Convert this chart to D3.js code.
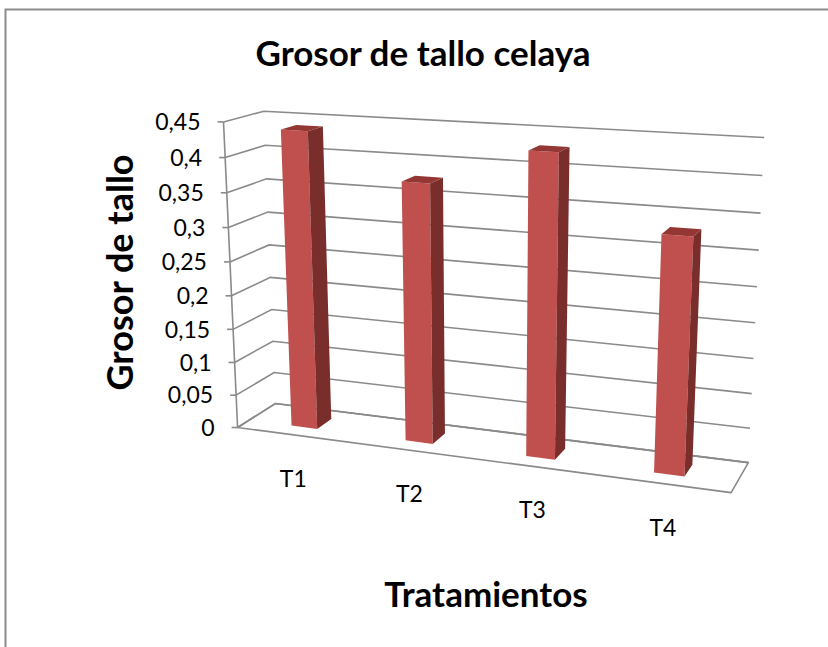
<!DOCTYPE html>
<html>
<head>
<meta charset="utf-8">
<script src="https://cdn.jsdelivr.net/npm/d3@7"></script>
<style>
  html, body { margin: 0; padding: 0; background: #ffffff; overflow: hidden; }
  svg { display: block; }
  text { font-family: Lato, "Open Sans", sans-serif; fill: #000; }
</style>
</head>
<body>
<svg id="chart" width="828" height="647"></svg>
<script>
// ---- data ----
const categories = ["T1", "T2", "T3", "T4"];
const grosor = [0.438, 0.376, 0.429, 0.330];
const yTickValues = [0, 0.05, 0.1, 0.15, 0.2, 0.25, 0.3, 0.35, 0.4, 0.45];
const yTickLabels = ["0", "0,05", "0,1", "0,15", "0,2", "0,25", "0,3", "0,35", "0,4", "0,45"];
const chartTitle = "Grosor de tallo celaya";
const yAxisTitle = "Grosor de tallo";
const xAxisTitle = "Tratamientos";

// ---- 3D frame layout (screen positions of the box edges) ----
// unit box: X = category axis, Y = value axis, Z = depth (0 front, 1 back)
const leftFrontV = [426.7, 395, 363.3, 329.3, 296, 262.3, 227.3, 192.7, 157.3, 122.7];
const backLeftV  = [404, 372.7, 340.7, 309.3, 277.3, 245, 212.7, 179, 144.3, 111];
const backRightU = [748.3, 750, 751.7, 753.3, 755.3, 757, 758.7, 760.3, 762.3, 764];
const backRightV = [461.7, 429, 394, 359, 323.3, 286.7, 250, 213.3, 175.7, 136.7];
const frontRightBottom = [731.7, 492];

const anchors = [];
leftFrontV.forEach((v, k) => anchors.push([0, k / 9, 0, 237.7 - 14.4 * (426.7 - v) / 304, v]));
backLeftV.forEach((v, k) => anchors.push([0, k / 9, 1, 275 - 10.7 * (404 - v) / 293, v]));
backRightV.forEach((v, k) => anchors.push([1, k / 9, 1, backRightU[k], v]));
anchors.push([1, 0, 0, frontRightBottom[0], frontRightBottom[1]]);

// least-squares perspective camera (3x4, last entry fixed to 1)
function fitCamera(pts) {
  const n = 11;
  const M = Array.from({ length: n }, () => new Array(n + 1).fill(0));
  const addRow = (row, rhs) => {
    for (let i = 0; i < n; i++) {
      for (let j = 0; j < n; j++) M[i][j] += row[i] * row[j];
      M[i][n] += row[i] * rhs;
    }
  };
  pts.forEach(([X, Y, Z, u, v]) => {
    addRow([X, Y, Z, 1, 0, 0, 0, 0, -u * X, -u * Y, -u * Z], u);
    addRow([0, 0, 0, 0, X, Y, Z, 1, -v * X, -v * Y, -v * Z], v);
  });
  for (let c = 0; c < n; c++) {
    let piv = c;
    for (let r = c + 1; r < n; r++) if (Math.abs(M[r][c]) > Math.abs(M[piv][c])) piv = r;
    [M[c], M[piv]] = [M[piv], M[c]];
    for (let r = 0; r < n; r++) {
      if (r === c) continue;
      const f = M[r][c] / M[c][c];
      for (let k = c; k <= n; k++) M[r][k] -= f * M[c][k];
    }
  }
  return M.map((row, i) => row[n] / row[i]);
}
const P = fitCamera(anchors);
function project(X, Y, Z) {
  const w = P[8] * X + P[9] * Y + P[10] * Z + 1;
  return [
    (P[0] * X + P[1] * Y + P[2] * Z + P[3]) / w,
    (P[4] * X + P[5] * Y + P[6] * Z + P[7]) / w
  ];
}

// ---- scales ----
const x = d3.scaleBand().domain(categories).range([0, 1]).paddingInner(0.77).paddingOuter(0.385);
const y = d3.scaleLinear().domain([0, 0.45]).range([0, 1]);
const barDepth = [0.3, 0.7];

const svg = d3.select("#chart");
const line = d3.line();
const poly = pts => line(pts.map(p => project(...p))) + "Z";
const gridColor = "#8a8a8a";

// chart area border (top and left edges fall inside the view)
svg.append("path")
  .attr("d", "M5.5,647V9.5H828")
  .attr("fill", "none").attr("stroke", "#8c8c8c").attr("stroke-width", 2);

// floor
svg.append("path")
  .attr("d", poly([[0, 0, 0], [1, 0, 0], [1, 0, 1], [0, 0, 1]]))
  .attr("fill", "#fff").attr("stroke", gridColor).attr("stroke-width", 1.6)
  .attr("stroke-linejoin", "round");

// gridlines on left wall and back wall
const grid = svg.append("g").attr("fill", "none").attr("stroke", gridColor).attr("stroke-width", 1.6);
yTickValues.forEach(t => {
  const Y = y(t);
  grid.append("path").attr("d", line([project(0, Y, 0), project(0, Y, 1), project(1, Y, 1)]));
});

// value axis line and ticks
svg.append("path")
  .attr("d", line([project(0, 0, 0), project(0, 1, 0)]))
  .attr("stroke", gridColor).attr("stroke-width", 1.6).attr("fill", "none");
const tickG = svg.append("g");
yTickValues.forEach((t, i) => {
  const [px, py] = project(0, y(t), 0);
  tickG.append("line")
    .attr("x1", px - 6).attr("x2", px).attr("y1", py).attr("y2", py)
    .attr("stroke", gridColor).attr("stroke-width", 1.6);
  tickG.append("text")
    .attr("x", px - 23).attr("y", py).attr("dy", "0.36em")
    .attr("text-anchor", "end").attr("font-size", 23)
    .text(yTickLabels[i]);
});

// bars: front, right side and top faces
const bars = svg.append("g");
categories.forEach((c, i) => {
  const x0 = x(c), x1 = x(c) + x.bandwidth();
  const h = y(grosor[i]);
  const [z0, z1] = barDepth;
  const g = bars.append("g");
  g.append("path").attr("d", poly([[x0, 0, z0], [x1, 0, z0], [x1, h, z0], [x0, h, z0]])).attr("fill", "#c0504d");
  g.append("path").attr("d", poly([[x1, 0, z0], [x1, 0, z1], [x1, h, z1], [x1, h, z0]])).attr("fill", "#7a2e2c");
  g.append("path").attr("d", poly([[x0, h, z0], [x1, h, z0], [x1, h, z1], [x0, h, z1]])).attr("fill", "#943634");
});

// category labels
categories.forEach(c => {
  const [px, py] = project(x(c) + x.bandwidth() / 2, 0, 0);
  svg.append("text")
    .attr("x", px).attr("y", py + 52)
    .attr("text-anchor", "middle").attr("font-size", 23)
    .text(c);
});

// titles
svg.append("text")
  .attr("x", 423).attr("y", 66).attr("text-anchor", "middle")
  .attr("font-size", 35).attr("font-weight", "bold")
  .text(chartTitle);
svg.append("text")
  .attr("transform", "translate(133,272.5) rotate(-90)")
  .attr("text-anchor", "middle")
  .attr("font-size", 36).attr("font-weight", "bold")
  .text(yAxisTitle);
svg.append("text")
  .attr("x", 486).attr("y", 607).attr("text-anchor", "middle")
  .attr("font-size", 35).attr("font-weight", "bold")
  .text(xAxisTitle);
</script>
</body>
</html>
